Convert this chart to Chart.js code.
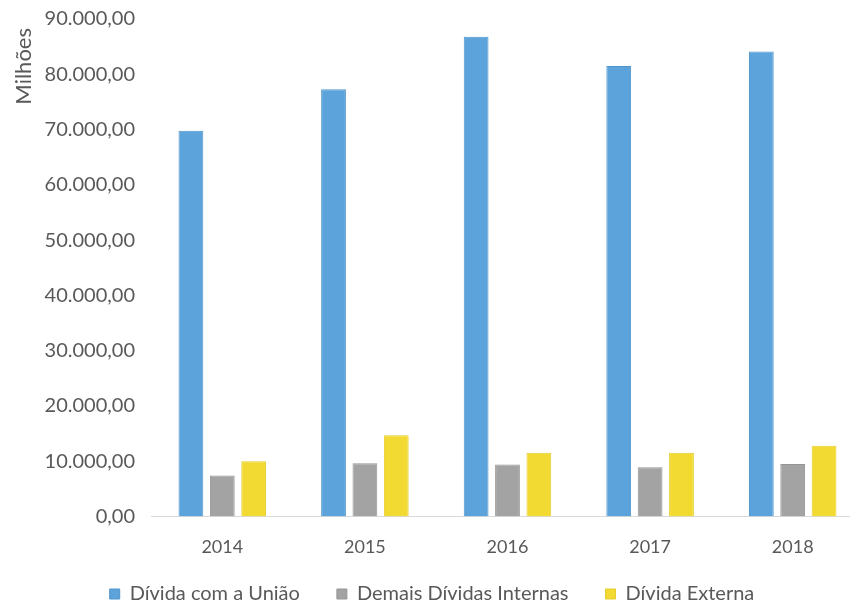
<!DOCTYPE html>
<html>
<head>
<meta charset="utf-8">
<script src="https://cdn.jsdelivr.net/npm/chart.js@4/dist/chart.umd.min.js"></script>
<style>
  html, body { margin: 0; padding: 0; background: #ffffff; overflow: hidden; }
  #wrap { width: 864px; height: 605px; }
</style>
</head>
<body>
<div id="wrap"><canvas id="chart" width="864" height="605"></canvas></div>
<script>
// Dívida por ano (R$ milhões)
const anos = ['2014', '2015', '2016', '2017', '2018'];
const dividaUniao = [69800, 77300, 86800, 81500, 84100];
const demaisInternas = [7400, 9600, 9400, 8900, 9500];
const dividaExterna = [10000, 14700, 11500, 11500, 12800];
const yTickLabels = ['0,00', '10.000,00', '20.000,00', '30.000,00', '40.000,00',
                     '50.000,00', '60.000,00', '70.000,00', '80.000,00', '90.000,00'];
const yTitle = 'Milhões';

const FONT = 'Lato, "Open Sans", sans-serif';
const TEXT = '#595959';
const X_OVERLAP = 31; // part of the category-label band that sits inside the legend's top margin

// Vertical unit title, written downward from just below the top of the plot
const unitTitle = {
  id: 'unitTitle',
  afterDraw(chart) {
    const { ctx, chartArea } = chart;
    ctx.save();
    ctx.translate(24, chartArea.top + 9);
    ctx.rotate(-Math.PI / 2);
    ctx.fillStyle = TEXT;
    ctx.font = '22px ' + FONT;
    ctx.textAlign = 'right';
    ctx.textBaseline = 'middle';
    ctx.fillText(yTitle, 0, 0);
    ctx.restore();
  }
};

// The x scale is fitted shorter than its labels; give its box back its full
// height once placed so the labels are not clipped.
const xBandRestore = {
  id: 'xBandRestore',
  afterLayout(chart) {
    const x = chart.scales.x;
    x.bottom += X_OVERLAP;
    x.height += X_OVERLAP;
  }
};

new Chart(document.getElementById('chart'), {
  type: 'bar',
  data: {
    labels: anos,
    datasets: [
      { label: 'Dívida com a União', data: dividaUniao,
        backgroundColor: '#5ba3da', borderColor: '#4f95cc', borderWidth: 1 },
      { label: 'Demais Dívidas Internas', data: demaisInternas,
        backgroundColor: '#a3a3a3', borderColor: '#959595', borderWidth: 1 },
      { label: 'Dívida Externa', data: dividaExterna,
        backgroundColor: '#f3da33', borderColor: '#e6cd2c', borderWidth: 1 }
    ]
  },
  options: {
    responsive: false,
    animation: false,
    layout: { padding: { top: 0, right: 0, bottom: -9, left: 0 } },
    datasets: { bar: { categoryPercentage: 0.66, barPercentage: 0.79 } },
    plugins: {
      legend: {
        position: 'bottom',
        labels: {
          boxWidth: 10, boxHeight: 10, padding: 37,
          color: TEXT, font: { family: FONT, size: 20 }
        }
      },
      tooltip: { enabled: false }
    },
    scales: {
      x: {
        afterFit(scale) { scale.height -= X_OVERLAP; },
        grid: { display: false, drawTicks: false },
        border: { display: true, color: '#d9d9d9', width: 1 },
        ticks: { color: TEXT, font: { family: FONT, size: 18 }, padding: 20 }
      },
      y: {
        min: 0, max: 90000,
        afterFit(scale) {
          scale.width = 151;
          scale.paddingTop = 19;
          scale.paddingBottom = 0;
        },
        grid: { display: false, drawTicks: false },
        border: { display: false },
        ticks: {
          stepSize: 10000, padding: 16, color: TEXT,
          font: { family: FONT, size: 20 },
          callback: (v, i) => yTickLabels[i]
        }
      }
    }
  },
  plugins: [unitTitle, xBandRestore]
});
</script>
</body>
</html>
